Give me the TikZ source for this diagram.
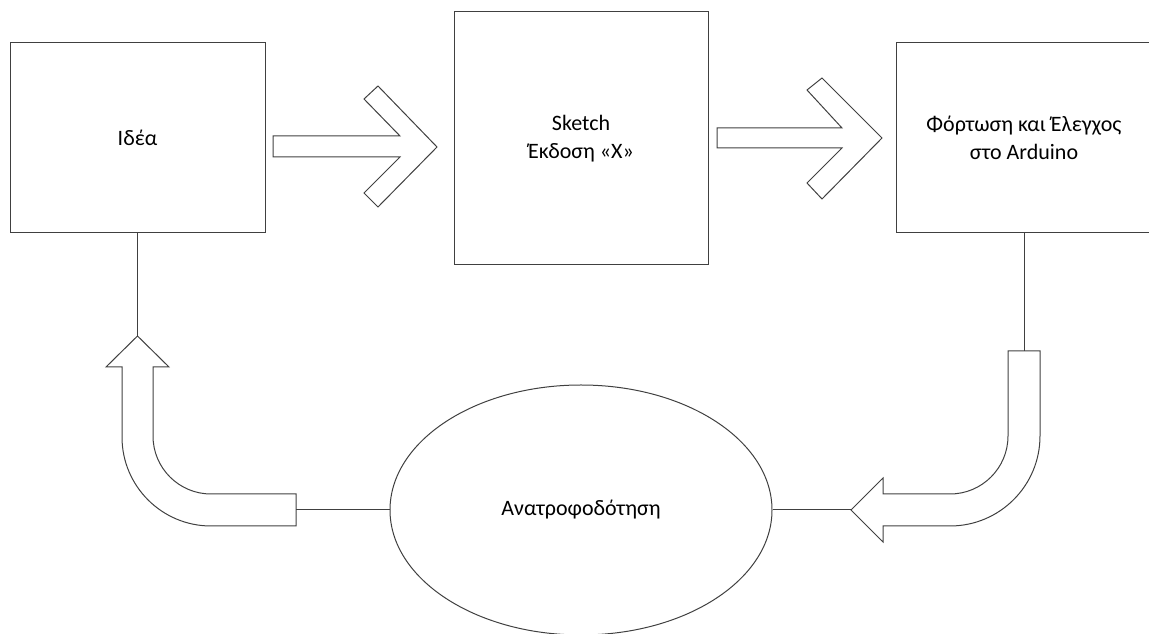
\documentclass[tikz,border=0pt]{standalone}
\usepackage{fontspec}
\setmainfont{Carlito}
\usetikzlibrary{shapes.geometric}

\tikzset{
  box/.style={draw=black!75, line width=1pt, align=center, inner sep=0pt},
  feedback/.style={ellipse, draw=black!75, line width=1pt, inner sep=0pt,
    minimum width=382pt, minimum height=250pt},
  fatarrow/.style={draw=black!75, line width=1pt, line join=miter},
  link/.style={draw=black!75, line width=1pt}
}

\begin{document}
\begin{tikzpicture}[x=1pt, y=1pt, font=\fontsize{22}{28}\selectfont]
  \useasboundingbox (0,0) rectangle (1149,634);

  % boxes
  \node[box, minimum width=255pt, minimum height=190pt] (idea) at (137.5,496) {Ιδέα};
  \node[box, minimum width=254pt, minimum height=253pt] (sketch) at (581,495.5) {Sketch\\Έκδοση «X»};
  \node[box, minimum width=255pt, minimum height=190pt] (upload) at (1024,496) {Φόρτωση και Έλεγχος\\στο Arduino};
  \node[feedback] (fb) at (581,124) {Ανατροφοδότηση};

  % hollow arrows between the boxes
  \draw[fatarrow] (273,498) -- (400,498) -- (364,535) -- (378,548) -- (437,487)
    -- (378,427) -- (364,441) -- (400,477) -- (273,477) -- cycle;
  \draw[fatarrow] (717,506) -- (842,506) -- (807,544) -- (822,556) -- (882,496)
    -- (822,435) -- (807,451) -- (842,486) -- (717,486) -- cycle;

  % bent arrow back to the idea
  \coordinate (tipL) at (137.5,298);
  \coordinate (tailL) at (296,124);
  \draw[fatarrow] (tipL) -- (169,267) -- (153,267) -- (153,198)
    arc[start angle=180, end angle=270, radius=58pt] -- (296,140) -- (296,108)
    -- (211,108) arc[start angle=270, end angle=180, radius=89pt] -- (122,267)
    -- (106,267) -- cycle;

  % bent arrow into the feedback
  \coordinate (tailR) at (1024,283);
  \coordinate (tipR) at (851,124);
  \draw[fatarrow] (1008,283) -- (1008,198)
    arc[start angle=0, end angle=-90, radius=58pt] -- (883,140) -- (883,156)
    -- (tipR) -- (883,92) -- (883,108) -- (950,108)
    arc[start angle=-90, end angle=0, radius=90pt] -- (1040,283) -- cycle;

  % connecting lines
  \draw[link] (idea.south) -- (tipL);
  \draw[link] (tailL) -- (fb.west);
  \draw[link] (upload.south) -- (tailR);
  \draw[link] (fb.east) -- (tipR);
\end{tikzpicture}
\end{document}
